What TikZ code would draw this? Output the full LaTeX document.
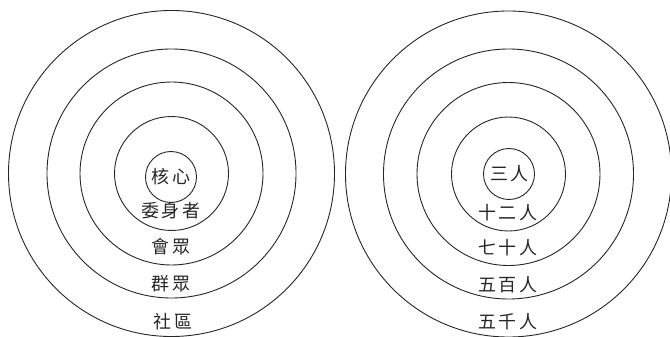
\documentclass[tikz,border=0pt]{standalone}
\usepackage{fontspec}
\newfontfamily\cjk{Noto Sans CJK TC}
\begin{document}
\begin{tikzpicture}[x=1pt,y=-1pt,
  ring/.style={draw=black!85, line width=0.9pt},
  lbl/.style={font=\cjk\fontsize{18}{18}\selectfont, inner sep=0pt, text=black!85}]
\useasboundingbox (0,0) rectangle (670,337);
% left target
\foreach \r in {163,124.5,91.5,57}{\draw[ring] (171.5,173.5) circle[radius=\r];}
\node[ring, circle, minimum size=51pt, inner sep=0pt] (lc) at (171,177) {};
\node[lbl] (l0) at (171,177) {核\hspace{3pt}心};
\node[lbl] (l1) at (171,211) {委\hspace{3pt}身\hspace{3pt}者};
\node[lbl] (l2) at (171,247) {會\hspace{3pt}眾};
\node[lbl] (l3) at (171,284) {群\hspace{3pt}眾};
\node[lbl] (l4) at (173,322) {社\hspace{3pt}區};
% right target
\foreach \r in {163,125,91.5,57}{\draw[ring] (508.5,174) circle[radius=\r];}
\node[ring, circle, minimum size=51pt, inner sep=0pt] (rc) at (509,174) {};
\node[lbl] (r0) at (509,174) {三\hspace{2pt}人};
\node[lbl] (r1) at (508,213) {十\hspace{3pt}二\hspace{3pt}人};
\node[lbl] (r2) at (508,248) {七\hspace{3pt}十\hspace{3pt}人};
\node[lbl] (r3) at (508,285) {五\hspace{3pt}百\hspace{3pt}人};
\node[lbl] (r4) at (508,322) {五\hspace{3pt}千\hspace{3pt}人};
\end{tikzpicture}
\end{document}
